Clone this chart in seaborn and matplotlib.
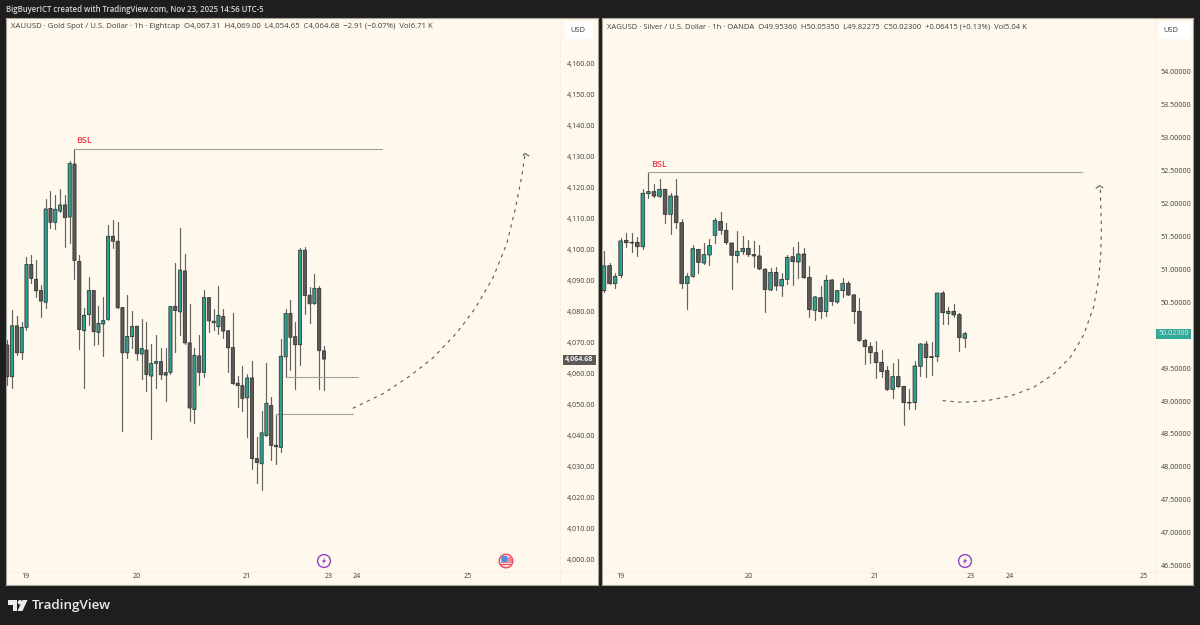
import numpy as np
import pandas as pd
import matplotlib
matplotlib.use('Agg')
import matplotlib.pyplot as plt
import seaborn as sns
from matplotlib.patches import Circle, FancyBboxPatch, Polygon, Rectangle

sns.set_theme(style='white')
plt.rcParams['font.family'] = ['Open Sans', 'DejaVu Sans']

DARK_BG = '#1e1e1e'
PANEL = '#fff8ec'
GREEN = '#2f9f8e'
GREY = '#5a5a58'
EDGE = '#2e302f'
WICK = '#62625e'
LEVEL = '#a2a29c'
RED = '#ee3a4f'

# gold, 1h candles
gold_open = [4069.2, 4059.0, 4075.4, 4066.7, 4074.9, 4095.2, 4090.4, 4086.8, 4083.0, 4113.3,
             4108.8, 4112.4, 4114.4, 4110.5, 4127.6, 4096.2, 4073.8, 4079.0, 4086.8, 4073.3,
             4076.0, 4077.5, 4104.3, 4102.7, 4081.3, 4066.7, 4071.9, 4075.3, 4066.3, 4067.6,
             4059.2, 4063.3, 4063.9, 4060.3, 4060.4, 4081.7, 4079.9, 4093.1, 4069.9, 4048.4,
             4065.7, 4060.4, 4084.5, 4076.9, 4075.1, 4078.4, 4073.8, 4068.4, 4056.9, 4056.1,
             4052.2, 4058.6, 4032.6, 4030.9, 4040.0, 4049.7, 4036.9, 4036.2, 4065.4, 4079.4,
             4071.9, 4069.3, 4099.8, 4085.3, 4082.6, 4087.5, 4067.31]
gold_high = [4070.8, 4080.5, 4078.7, 4076.7, 4097.5, 4098.4, 4096.6, 4088.5, 4116.2, 4118.9,
             4117.6, 4119.6, 4117.6, 4128.7, 4132.6, 4098.4, 4081.1, 4091.0, 4086.8, 4081.9,
             4084.6, 4107.9, 4109.7, 4108.9, 4081.6, 4085.3, 4080.3, 4075.4, 4077.5, 4076.5,
             4069.4, 4072.5, 4068.1, 4068.1, 4081.8, 4095.8, 4107.0, 4098.5, 4082.3, 4068.3,
             4072.3, 4086.9, 4084.8, 4080.7, 4088.4, 4080.9, 4074.2, 4079.7, 4059.2, 4062.4,
             4059.8, 4064.0, 4039.6, 4047.9, 4063.3, 4052.5, 4046.6, 4071.3, 4080.7, 4083.7,
             4076.7, 4100.4, 4100.9, 4088.0, 4092.0, 4088.4, 4069.00]
gold_low = [4056.3, 4055.5, 4066.0, 4064.6, 4074.2, 4089.1, 4084.8, 4078.3, 4081.0, 4107.1,
            4106.5, 4112.2, 4100.9, 4102.0, 4090.4, 4068.0, 4055.5, 4075.6, 4069.3, 4069.7,
            4065.8, 4077.3, 4100.4, 4081.0, 4041.6, 4064.9, 4068.1, 4064.3, 4058.4, 4054.3,
            4038.8, 4055.5, 4058.1, 4051.1, 4060.0, 4067.0, 4072.4, 4069.7, 4044.8, 4043.9,
            4056.3, 4059.0, 4073.3, 4074.0, 4072.9, 4071.5, 4060.4, 4056.6, 4049.3, 4048.0,
            4039.6, 4029.2, 4024.8, 4022.4, 4039.8, 4032.1, 4030.8, 4034.8, 4059.0, 4061.3,
            4055.1, 4062.7, 4079.1, 4076.2, 4082.4, 4055.1, 4054.65]
gold_close = [4059.0, 4075.4, 4066.7, 4074.9, 4095.2, 4090.7, 4086.7, 4083.4, 4113.1, 4108.8,
              4113.0, 4114.4, 4110.3, 4127.8, 4096.5, 4074.2, 4078.8, 4086.8, 4073.5, 4076.2,
              4077.1, 4104.3, 4102.7, 4081.2, 4066.7, 4072.0, 4075.2, 4066.4, 4068.1, 4059.7,
              4063.3, 4063.9, 4059.6, 4059.5, 4081.6, 4080.3, 4093.4, 4069.9, 4048.9, 4065.9,
              4060.4, 4084.5, 4077.0, 4076.4, 4078.8, 4073.7, 4068.3, 4056.8, 4056.1, 4052.0,
              4058.6, 4032.6, 4031.3, 4040.9, 4050.4, 4036.8, 4036.4, 4065.6, 4079.4, 4071.7,
              4069.3, 4099.8, 4085.2, 4082.5, 4087.5, 4067.4, 4064.68]

# silver, 1h candles
silver_open = [50.677, 51.057, 50.783, 50.905, 51.442, 51.411, 51.411, 51.345, 52.151, 52.181,
               52.110, 52.217, 51.837, 52.115, 51.710, 50.783, 50.895, 51.305, 51.097, 51.219,
               51.518, 51.730, 51.594, 51.401, 51.209, 51.269, 51.320, 51.224, 51.204, 51.001,
               50.687, 50.955, 50.748, 50.849, 51.193, 51.112, 51.234, 50.879, 50.378, 50.570,
               50.358, 50.839, 50.504, 50.677, 50.788, 50.611, 50.363, 49.922, 49.826, 49.734,
               49.588, 49.461, 49.177, 49.370, 49.223, 48.980, 48.975, 49.527, 49.866, 49.674,
               49.674, 50.641, 50.332, 50.363, 50.312, 49.9536]
silver_high = [51.285, 51.102, 50.950, 51.472, 51.548, 51.548, 51.487, 52.217, 52.470, 52.298,
               52.369, 52.222, 52.156, 52.369, 51.761, 50.950, 51.371, 51.310, 51.396, 51.457,
               51.776, 51.877, 51.700, 51.406, 51.589, 51.508, 51.447, 51.432, 51.366, 51.016,
               51.016, 51.041, 50.940, 51.219, 51.335, 51.411, 51.320, 51.057, 50.596, 50.753,
               50.915, 50.849, 50.687, 50.864, 50.829, 50.621, 50.570, 49.937, 49.902, 49.912,
               49.775, 49.532, 49.572, 49.638, 49.228, 49.182, 49.613, 49.886, 49.917, 49.897,
               50.646, 50.677, 50.434, 50.474, 50.342, 50.0535]
silver_low = [50.662, 50.773, 50.722, 50.889, 51.345, 51.259, 51.209, 51.310, 52.090, 52.095,
              52.105, 51.710, 51.538, 51.634, 50.722, 50.393, 50.890, 50.950, 51.082, 51.062,
              51.406, 51.538, 51.386, 50.702, 51.117, 51.234, 51.204, 51.031, 51.001, 50.358,
              50.682, 50.687, 50.596, 50.778, 50.763, 50.864, 50.870, 50.272, 50.231, 50.266,
              50.292, 50.459, 50.484, 50.586, 50.606, 50.190, 49.917, 49.562, 49.572, 49.355,
              49.360, 49.172, 49.051, 49.213, 48.635, 48.873, 48.878, 49.385, 49.370, 49.395,
              49.608, 50.170, 50.170, 50.282, 49.765, 49.82275]
silver_close = [51.052, 50.783, 50.895, 51.432, 51.406, 51.401, 51.345, 52.156, 52.181, 52.115,
                52.217, 51.837, 52.115, 51.710, 50.783, 50.895, 51.315, 51.107, 51.224, 51.361,
                51.746, 51.594, 51.406, 51.214, 51.275, 51.320, 51.224, 51.204, 51.006, 50.692,
                50.955, 50.748, 50.849, 51.183, 51.117, 51.234, 50.874, 50.388, 50.581, 50.358,
                50.834, 50.510, 50.677, 50.788, 50.611, 50.358, 49.922, 49.826, 49.734, 49.583,
                49.446, 49.177, 49.370, 49.218, 48.975, 48.970, 49.532, 49.866, 49.659, 49.659,
                50.641, 50.342, 50.363, 50.307, 49.962, 50.023]

gold_price_ticks = [4000, 4010, 4020, 4030, 4040, 4050, 4060, 4070, 4080,
                    4090, 4100, 4110, 4120, 4130, 4140, 4150, 4160]
silver_price_ticks = [46.5, 47.0, 47.5, 48.0, 48.5, 49.0, 49.5, 50.0, 50.5,
                      51.0, 51.5, 52.0, 52.5, 53.0, 53.5, 54.0]
day_labels = ['19', '20', '21', '23', '24', '25']
gold_day_pos = [3.8, 26.9, 50.0, 66.9, 72.9, 96.0]
silver_day_pos = [3.0, 26.0, 48.8, 66.1, 73.1, 97.3]

# horizontal levels: (start candle, end candle, price)
gold_bsl = [14, 78.1, 4132.6]
gold_levels = [[58, 73.1, 4059.0], [56, 72, 4046.8]]
silver_bsl = [8, 86.1, 52.473]

# hand drawn dashed projections
gold_path_x = [72.0, 78.4, 83.9, 88.8, 93.7, 97.5, 101.3, 104.1, 105.8, 107.2, 107.9]
gold_path_y = [4048.8, 4053.6, 4059.2, 4065.2, 4073.2, 4081.0, 4091.2, 4102.0, 4112.7, 4123.5, 4130.8]
gold_head_x = [107.5, 107.9, 108.7]
gold_head_y = [4130.4, 4131.0, 4130.2]
silver_path_x = [61.0, 64.7, 69.0, 73.2, 77.4, 81.0, 84.0, 86.4, 88.2, 89.1, 89.5, 89.6, 89.4, 89.25]
silver_path_y = [49.005, 48.980, 49.005, 49.076, 49.208, 49.410, 49.664, 50.003, 50.433,
                 50.839, 51.245, 51.649, 52.207, 52.267]
silver_head_x = [88.65, 89.25, 89.85]
silver_head_y = [52.233, 52.272, 52.242]


def panel_axes(fig, left, top, right, bottom):
    ax = fig.add_axes([left / 1200, 1 - bottom / 625, (right - left) / 1200, (bottom - top) / 625])
    ax.set_facecolor(PANEL)
    return ax


def candles(ax, o, h, l, c, body_width):
    df = pd.DataFrame({'i': np.arange(len(o)), 'o': o, 'h': h, 'l': l, 'c': c})
    wicks = df.melt(id_vars='i', value_vars=['h', 'l'], value_name='price')
    sns.lineplot(data=wicks, x='i', y='price', units='i', estimator=None, color=WICK,
                 lw=0.85, ax=ax, legend=False)
    df['bottom'] = df[['o', 'c']].min(axis=1)
    df['height'] = (df['c'] - df['o']).abs()
    up = df[df['c'] >= df['o']]
    down = df[df['c'] < df['o']]
    for part, col in [(up, GREEN), (down, GREY)]:
        sns.barplot(data=part, x='i', y='height', bottom=part['bottom'].values, native_scale=True,
                    width=body_width, color=col, saturation=1, errorbar=None, edgecolor=EDGE,
                    linewidth=0.55, zorder=3, snap=False, ax=ax)


def segment(ax, xs, ys, color=LEVEL, lw=0.8, ls='-'):
    line = pd.DataFrame({'x': xs, 'y': ys})
    sns.lineplot(data=line, x='x', y='y', sort=False, estimator=None, color=color, lw=lw,
                 linestyle=ls, ax=ax, legend=False)


def finish(ax, xlim, ylim, yticks, ylabels, xticks, pad_y, sep_x, sep_y):
    ax.axvline(sep_x, color='#f8f0e0', lw=0.7, zorder=0)
    ax.axhline(sep_y, color='#f8f0e0', lw=0.7, zorder=0)
    ax.set_xlim(*xlim)
    ax.set_ylim(*ylim)
    ax.set_xlabel('')
    ax.set_ylabel('')
    ax.yaxis.tick_right()
    ax.set_yticks(yticks, ylabels)
    ax.set_xticks(xticks, day_labels)
    ax.tick_params(axis='y', length=0, pad=pad_y, labelsize=5.1, labelcolor='#3c3c3c')
    ax.tick_params(axis='x', length=0, pad=-9.0, labelsize=5.1, labelcolor='#3c3c3c')
    for s in ax.spines.values():
        s.set_color('#a8a69c')
        s.set_linewidth(0.8)


fig = plt.figure(figsize=(12, 6.25), dpi=100, facecolor=DARK_BG)

# gold
ax1 = panel_axes(fig, 6, 18, 598, 585)
candles(ax1, gold_open, gold_high, gold_low, gold_close, 0.66)
segment(ax1, gold_bsl[:2], [gold_bsl[2]] * 2)
for lev in gold_levels:
    segment(ax1, lev[:2], [lev[2]] * 2)
segment(ax1, gold_path_x, gold_path_y, color='#5a5a5a', lw=0.8, ls=(0, (3, 4)))
segment(ax1, gold_head_x, gold_head_y, color='#5a5a5a', lw=0.8)
ax1.text(gold_bsl[0] + 0.4, gold_bsl[2] + 1.1, 'BSL', color=RED, fontsize=6.5, va='bottom',
         fontweight='semibold')
finish(ax1, (-0.27, 123.1), (3991.8, 4174.7), gold_price_ticks,
       [f'{v:,.2f}' for v in gold_price_ticks], gold_day_pos, -22.3, 115.2, 3996.0)

# silver, the 50.00 label sits under the live price tag
silver_labels = ['' if v == 50.0 else f'{v:.5f}' for v in silver_price_ticks]
ax2 = panel_axes(fig, 602, 18, 1193, 585)
candles(ax2, silver_open, silver_high, silver_low, silver_close, 0.66)
segment(ax2, silver_bsl[:2], [silver_bsl[2]] * 2)
segment(ax2, silver_path_x, silver_path_y, color='#5a5a5a', lw=0.8, ls=(0, (3, 4)))
segment(ax2, silver_head_x, silver_head_y, color='#5a5a5a', lw=0.8)
ax2.text(silver_bsl[0] + 0.5, silver_bsl[2] + 0.05, 'BSL', color=RED, fontsize=6.5, va='bottom',
         fontweight='semibold')
finish(ax2, (-0.36, 106.1), (46.204, 54.82), silver_price_ticks,
       silver_labels, silver_day_pos, -23.3, 99.3, 46.40)

# overlay in pixel coordinates for the chrome around the charts
top = fig.add_axes([0, 0, 1, 1], zorder=10)
top.set_xlim(0, 1200)
top.set_ylim(625, 0)
top.axis('off')
top.patch.set_alpha(0)

top.text(6, 9.5, 'BigBuyerICT created with TradingView.com, Nov 23, 2025 14:56 UTC-5',
         color='#d6d6d6', fontsize=5.6, va='center', fontweight='semibold')
top.text(11, 26.5, 'XAUUSD · Gold Spot / U.S. Dollar · 1h · Eightcap  O4,067.31  H4,069.00  L4,054.65  '
         'C4,064.68  −2.91 (−0.07%)  Vol6.71 K', color='#3f3f3f', fontsize=5.58, va='center')
top.text(607, 26.5, 'XAGUSD · Silver / U.S. Dollar · 1h · OANDA  O49.95360  H50.05350  L49.82275  '
         'C50.02300  +0.06415 (+0.13%)  Vol5.04 K', color='#3f3f3f', fontsize=5.5, va='center')

for x0, x1, cx in [(565, 593, 578), (1159, 1191, 1171)]:
    top.add_patch(FancyBboxPatch((x0, 22), x1 - x0, 17, boxstyle='round,pad=0,rounding_size=2.5',
                                 fc='#ffffff', ec='none'))
    top.text(cx, 30, 'USD', color='#3c3c3c', fontsize=5.4, ha='center', va='center')

top.add_patch(Rectangle((563, 355), 33, 9.5, fc=GREY, ec='none'))
top.text(579.5, 359.8, '4,064.68', color='#f2f2f2', fontsize=5.1, ha='center', va='center', fontweight='bold')
top.add_patch(Rectangle((1156, 329), 35, 9.7, fc='#35a999', ec='none'))
top.text(1173.5, 333.9, '50.02300', color='#dff3ee', fontsize=5.1, ha='center', va='center')

# event icons
for cx in [324, 965]:
    top.add_patch(Circle((cx, 561), 6.4, fc='#fff8ec', ec='#8e44c4', lw=1.0))
    top.add_patch(Polygon([[cx + 1.6, 556.8], [cx - 2.2, 561.8], [cx - 0.1, 561.8], [cx - 1.6, 565.2],
                           [cx + 2.2, 560.2], [cx + 0.1, 560.2]], fc='#8e44c4', ec='none'))
top.add_patch(Circle((506, 561), 6.8, fc='#fbd8dc', ec='#ee4a5f', lw=1.0))
top.add_patch(Rectangle((500.5, 557), 11, 5.5, fc='#f0838f', ec='none'))
top.add_patch(Rectangle((501.5, 555.7), 5.2, 6, fc='#4a90e2', ec='none'))
top.add_patch(Rectangle((500.5, 563.5), 11, 1.2, fc='#ee4a5f', ec='none'))

# footer logo
top.add_patch(Polygon([[8, 600], [17, 600], [17, 611], [12.5, 611], [12.5, 604.5], [8, 604.5]],
                      fc='#ececec', ec='none'))
top.add_patch(Circle((20, 602.3), 2.3, fc='#ececec', ec='none'))
top.add_patch(Polygon([[22.5, 600], [27.5, 600], [22.5, 611], [17.5, 611]], fc='#ececec', ec='none'))
top.text(31.5, 605.5, 'TradingView', color='#ececec', fontsize=9.6, va='center', fontweight='semibold')

fig.savefig('out.png', dpi=100, facecolor=fig.get_facecolor())
